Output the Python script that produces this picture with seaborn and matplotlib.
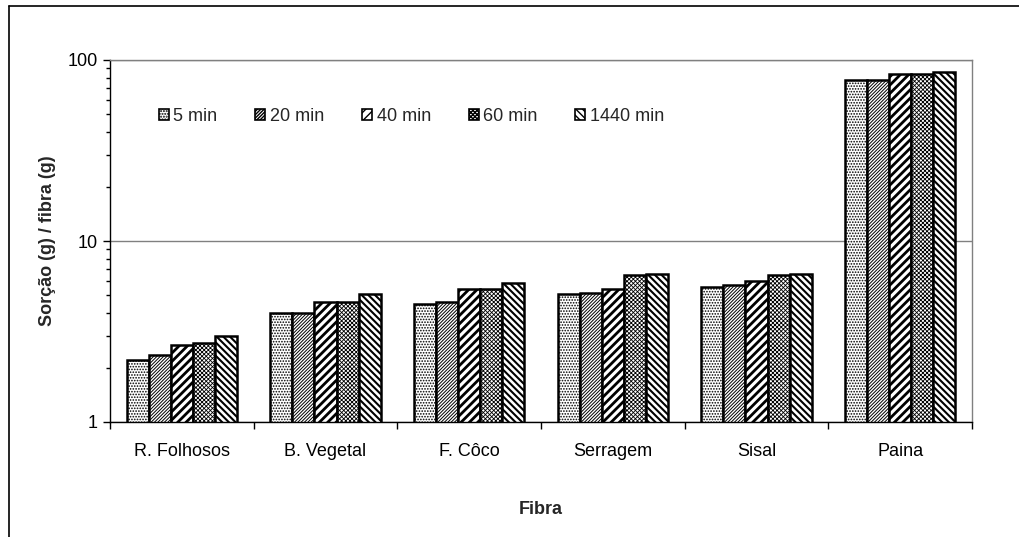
import matplotlib
matplotlib.use("Agg")
import matplotlib.pyplot as plt
from matplotlib.lines import Line2D
from matplotlib.patches import Patch
from matplotlib.ticker import FixedLocator, NullFormatter, LogLocator
import seaborn as sns
import pandas as pd
import numpy as np

fibras = ["R. Folhosos", "B. Vegetal", "F. Côco", "Serragem", "Sisal", "Paina"]
tempos = ["5 min", "20 min", "40 min", "60 min", "1440 min"]

sorcao_5 = [2.20, 4.00, 4.49, 5.10, 5.57, 77.6]
sorcao_20 = [2.34, 4.00, 4.60, 5.16, 5.71, 77.6]
sorcao_40 = [2.66, 4.60, 5.43, 5.43, 6.01, 83.7]
sorcao_60 = [2.73, 4.60, 5.43, 6.49, 6.49, 83.7]
sorcao_1440 = [2.98, 5.10, 5.86, 6.57, 6.57, 85.9]

series = [sorcao_5, sorcao_20, sorcao_40, sorcao_60, sorcao_1440]
hatches = ["......", "/" * 10, "////", "x" * 8, "\\" * 5]
hatch_widths = [0.8, 0.7, 2.0, 0.6, 1.5]

rows = []
for tempo, vals in zip(tempos, series):
    for fibra, v in zip(fibras, vals):
        rows.append({"Fibra": fibra, "Tempo": tempo, "Sorcao": v})
df = pd.DataFrame(rows)

sns.set_theme(style="white")
plt.rcParams["font.family"] = ["Liberation Sans", "DejaVu Sans"]
plt.rcParams["hatch.linewidth"] = 1.0

FS = 13

fig = plt.figure(figsize=(10.19, 5.37), dpi=100)
ax = fig.add_axes([110 / 1019, 1 - 422 / 537, 862 / 1019, 362 / 537])
ax.set_yscale("log")

sns.barplot(data=df, x="Fibra", y="Sorcao", hue="Tempo", order=fibras,
            hue_order=tempos, palette=["white"] * 5, edgecolor="black",
            linewidth=1.8, width=0.77, gap=0, errorbar=None, legend=False,
            ax=ax)


def style_patch(p, hatch, hw):
    p.set_hatch(hatch)
    if hasattr(p, "set_hatch_linewidth"):
        p.set_hatch_linewidth(hw)


# apply a fill pattern per time series
for cont, h, hw in zip(ax.containers, hatches, hatch_widths):
    for bar in cont:
        style_patch(bar, h, hw)

ax.set_ylim(1, 100)
ax.set_xlim(-0.5, len(fibras) - 0.5)

# gridline at each decade
ax.yaxis.set_major_locator(FixedLocator([1, 10, 100]))
ax.set_yticklabels(["1", "10", "100"])
ax.yaxis.set_minor_locator(LogLocator(base=10, subs=np.arange(2, 10)))
ax.yaxis.set_minor_formatter(NullFormatter())
ax.grid(axis="y", which="major", color="#808080", linewidth=1.0)
ax.set_axisbelow(True)

# category ticks sit between groups, labels centred under each group
bounds = np.arange(-0.5, len(fibras), 1.0)
ax.xaxis.set_major_locator(FixedLocator(bounds))
ax.xaxis.set_major_formatter(NullFormatter())
ax.xaxis.set_minor_locator(FixedLocator(np.arange(len(fibras))))
ax.set_xticklabels(fibras, minor=True)
ax.tick_params(axis="x", which="major", direction="out", length=5, width=1,
               color="black", bottom=True)
ax.tick_params(axis="x", which="minor", length=0, pad=15, labelsize=FS,
               labelcolor="black")
ax.tick_params(axis="y", which="major", direction="out", length=5, width=1,
               color="black", left=True, labelsize=FS, pad=4,
               labelcolor="black")
ax.tick_params(axis="y", which="minor", direction="out", length=3, width=1,
               color="black", left=True)

for side in ["left", "bottom"]:
    ax.spines[side].set_color("black")
    ax.spines[side].set_linewidth(1.0)
for side in ["top", "right"]:
    ax.spines[side].set_color("#808080")
    ax.spines[side].set_linewidth(1.0)

ax.set_xlabel("Fibra", fontsize=FS, fontweight="bold", labelpad=30)
ax.set_ylabel("Sorção (g) / fibra (g)", fontsize=FS, fontweight="bold",
              labelpad=8)

handles = []
for h, hw in zip(hatches, hatch_widths):
    p = Patch(facecolor="white", edgecolor="black", linewidth=1.2)
    style_patch(p, h, hw)
    handles.append(p)
leg = ax.legend(handles, tempos, loc="center left", ncol=5, frameon=False,
                bbox_to_anchor=(0.038, 0.845), fontsize=FS,
                handlelength=0.55, handleheight=0.55, handletextpad=0.25,
                columnspacing=2.1)

# outer chart frame (top and left edges)
fig.add_artist(Line2D([9 / 1019, 1.0], [1 - 6 / 537, 1 - 6 / 537],
                      color="black", linewidth=1.2))
fig.add_artist(Line2D([9 / 1019, 9 / 1019], [0, 1 - 6 / 537],
                      color="black", linewidth=1.2))

fig.savefig("out.png", dpi=100)
